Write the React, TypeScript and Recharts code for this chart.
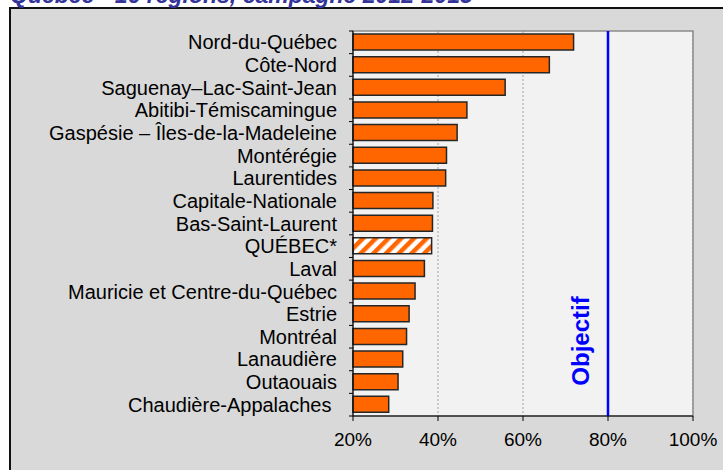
import React from 'react';
import { BarChart, Bar, XAxis, YAxis, CartesianGrid, ReferenceLine, ReferenceArea, Cell } from 'recharts';

const regions = [
  'Nord-du-Québec',
  'Côte-Nord',
  'Saguenay–Lac-Saint-Jean',
  'Abitibi-Témiscamingue',
  'Gaspésie – Îles-de-la-Madeleine',
  'Montérégie',
  'Laurentides',
  'Capitale-Nationale',
  'Bas-Saint-Laurent',
  'QUÉBEC*',
  'Laval',
  'Mauricie et Centre-du-Québec',
  'Estrie',
  'Montréal',
  'Lanaudière',
  'Outaouais',
  'Chaudière-Appalaches ',
];
const coverage = [71.9, 66.2, 55.8, 46.8, 44.5, 42.0, 41.8, 38.8, 38.7, 38.5, 36.8, 34.6, 33.2, 32.6, 31.7, 30.6, 28.4];
const provinceLabel = 'QUÉBEC*';
const xTicks = [20, 40, 60, 80, 100];
const objective = 80;
const titleText = 'Québec - 16 régions, campagne 2012-2013';
const objectiveText = 'Objectif';

const data = regions.map((r, i) => ({ region: r, value: coverage[i] }));

const FONT = '"Liberation Sans", Arial, sans-serif';

const CatTick = (props: any) => {
  const { x, y, payload, index, visibleTicksCount } = props;
  const half = payload && payload.offset ? payload.offset : 11.3;
  const ax = x + 8;
  return (
    <g>
      <line x1={ax - 4} x2={ax} y1={y - half} y2={y - half} stroke="#000" strokeWidth={1} />
      {index === visibleTicksCount - 1 && (
        <line x1={ax - 4} x2={ax} y1={y + half} y2={y + half} stroke="#000" strokeWidth={1} />
      )}
      <text
        x={ax - 16}
        y={y}
        dy="0.355em"
        textAnchor="end"
        fontSize={20}
        fontFamily={FONT}
        fill="#000"
        style={{ whiteSpace: 'pre' }}
      >
        {payload.value}
      </text>
    </g>
  );
};

const ObjLabel = (props: any) => {
  const { viewBox } = props;
  const cx = viewBox.x - 28;
  const cy = viewBox.y + viewBox.height - 75;
  return (
    <text
      x={cx}
      y={cy}
      transform={`rotate(-90, ${cx}, ${cy})`}
      textAnchor="middle"
      dy="0.355em"
      fontSize={24}
      fontWeight="bold"
      fontFamily={FONT}
      fill="#0000ff"
    >
      {objectiveText}
    </text>
  );
};

export default function App() {
  return (
    <div style={{ position: 'fixed', left: 0, top: 0, width: 723, height: 470, overflow: 'hidden', background: '#d9d9d9' }}>
      <div
        style={{
          position: 'absolute',
          left: 9,
          top: 7,
          width: 714,
          height: 463,
          boxSizing: 'border-box',
          background: '#d9d9d9',
          borderLeft: '2px solid #111',
          borderTop: '2px solid #111',
        }}
      />
      <div style={{ position: 'absolute', left: 0, top: 0, width: 9, height: 7, background: '#fff' }} />
      <div style={{ position: 'absolute', left: 0, top: 0, width: 723, height: 7, background: '#fff' }} />
      <div style={{ position: 'absolute', left: 0, top: 0, width: 9, height: 470, background: '#fff' }} />
      <svg width={723} height={10} style={{ position: 'absolute', left: 0, top: 0 }}>
        <text x={10} y={3} fontSize={23} fontWeight="bold" fontStyle="italic" fontFamily={FONT} fill="#333399">
          {titleText}
        </text>
      </svg>
      <div style={{ position: 'absolute', left: 0, top: 0, width: 723, height: 450 }}>
        <BarChart
          width={723}
          height={450}
          data={data}
          layout="vertical"
          margin={{ top: 31, right: 30, bottom: 4, left: 0 }}
          barSize={16}
        >
          <defs>
            <pattern id="hatch" patternUnits="userSpaceOnUse" width="9" height="9" patternTransform="rotate(45)">
              <rect x="0" y="0" width="9" height="9" fill="#ffffff" />
              <rect x="0" y="0" width="4.5" height="9" fill="#ff6600" />
            </pattern>
          </defs>
          <CartesianGrid horizontal={false} vertical stroke="#a0a0a0" strokeDasharray="2 2" fill="#f2f2f2" />
          <ReferenceArea x1={20} x2={100} fill="none" stroke="#8c8c8c" strokeWidth={1.5} ifOverflow="extendDomain" />
          <XAxis
            type="number"
            domain={[20, 100]}
            ticks={xTicks}
            tickFormatter={(v: number) => `${v}%`}
            axisLine={{ stroke: '#000', strokeWidth: 1 }}
            tickLine={{ stroke: '#000' }}
            tickSize={5}
            tickMargin={12}
            height={30}
            tick={{ fontSize: 19, fill: '#000', fontFamily: FONT }}
            interval={0}
          />
          <YAxis
            type="category"
            dataKey="region"
            width={353}
            axisLine={{ stroke: '#000', strokeWidth: 1 }}
            tickLine={false}
            tick={<CatTick />}
            interval={0}
          />
          <Bar dataKey="value" fill="#ff6600" stroke="#262626" strokeWidth={1.5} isAnimationActive={false}>
            {data.map((d, i) => (
              <Cell key={i} fill={d.region === provinceLabel ? 'url(#hatch)' : '#ff6600'} />
            ))}
          </Bar>
          <ReferenceLine x={objective} stroke="#0000ff" strokeWidth={2.5} label={<ObjLabel />} />
        </BarChart>
      </div>
    </div>
  );
}
